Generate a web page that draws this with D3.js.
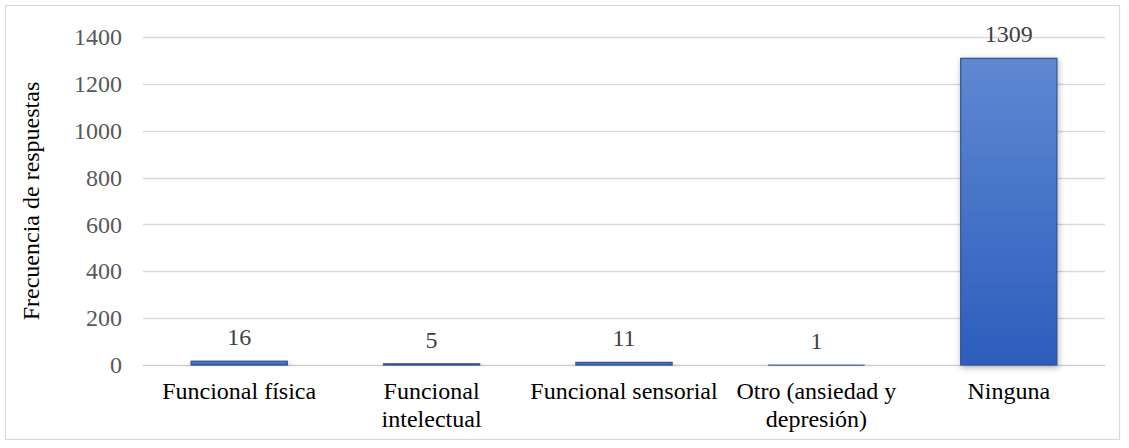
<!DOCTYPE html>
<html><head><meta charset="utf-8">
<script src="https://cdn.jsdelivr.net/npm/d3@7"></script>
<style>body{margin:0;background:#fff}svg{display:block}</style>
</head><body>
<svg id="c" width="1129" height="448"></svg>
<script>
const categories = [["Funcional física"], ["Funcional", "intelectual"], ["Funcional sensorial"], ["Otro (ansiedad y", "depresión)"], ["Ninguna"]];
const values = [16, 5, 11, 1, 1309];
const yTicks = [0, 200, 400, 600, 800, 1000, 1200, 1400];
const yTitle = "Frecuencia de respuestas";

const svg = d3.select("#c");
const W = 1129, H = 448;
const m = {l: 143, r: 24, t: 37, b: 83};
const font = "'Liberation Serif','Times New Roman',serif";
const fs = 24;

svg.append("rect").attr("x", 5.5).attr("y", 5.5).attr("width", 1114).attr("height", 434)
  .attr("fill", "#fff").attr("stroke", "#d9d9d9").attr("stroke-width", 1.2);

const defs = svg.append("defs");
const g1 = defs.append("linearGradient").attr("id", "bg").attr("x1", 0).attr("y1", 0).attr("x2", 0).attr("y2", 1);
g1.append("stop").attr("offset", "0%").attr("stop-color", "#5f88d2");
g1.append("stop").attr("offset", "100%").attr("stop-color", "#2c5dbd");
const f = defs.append("filter").attr("id", "sh").attr("x", "-20%").attr("y", "-20%").attr("width", "140%").attr("height", "140%");
f.append("feDropShadow").attr("dx", 1).attr("dy", 2).attr("stdDeviation", 3).attr("flood-color", "#000").attr("flood-opacity", 0.3);

const x = d3.scaleBand().domain(d3.range(categories.length)).range([m.l, W - m.r]).paddingInner(0.5).paddingOuter(0.25);
const y = d3.scaleLinear().domain([0, 1400]).range([H - m.b, m.t]);

// gridlines
svg.append("g").selectAll("line").data(yTicks).join("line")
  .attr("x1", m.l).attr("x2", W - m.r)
  .attr("y1", d => Math.round(y(d)) + 0.5).attr("y2", d => Math.round(y(d)) + 0.5)
  .attr("stroke", d => d === 0 ? "#cfcfcf" : "#d9d9d9").attr("stroke-width", 1.3);

// y axis labels
const yAxis = d3.axisLeft(y).tickValues(yTicks).tickSize(0).tickPadding(0).tickFormat(d3.format("d"));
const ya = svg.append("g").attr("transform", `translate(${m.l - 21},0)`).call(yAxis)
  .attr("font-family", font).attr("font-size", fs);
ya.select(".domain").remove();
ya.selectAll("text").attr("fill", "#595959");

// bars
svg.append("g").selectAll("rect").data(values).join("rect")
  .attr("x", (d, i) => x(i)).attr("width", x.bandwidth())
  .attr("y", d => y(d)).attr("height", d => Math.max(y(0) - y(d), 0.8))
  .attr("fill", "url(#bg)").attr("stroke", "#2f528f").attr("stroke-width", d => d > 3 ? 1.2 : 0.3)
  .attr("filter", "url(#sh)");

// value labels
svg.append("g").selectAll("text").data(values).join("text")
  .attr("x", (d, i) => x(i) + x.bandwidth() / 2).attr("y", d => y(d) - 16)
  .attr("text-anchor", "middle").attr("font-family", font).attr("font-size", fs).attr("fill", "#404040")
  .text(d => d);

// category labels
const xa = svg.append("g");
categories.forEach((lines, i) => {
  const t = xa.append("text").attr("x", x(i) + x.bandwidth() / 2).attr("y", 399)
    .attr("text-anchor", "middle").attr("font-family", font).attr("font-size", fs).attr("fill", "#000");
  lines.forEach((ln, j) => t.append("tspan").attr("x", x(i) + x.bandwidth() / 2).attr("dy", j === 0 ? 0 : 28).text(ln));
});

// y title
svg.append("text").attr("transform", `translate(39,${(m.t + H - m.b) / 2}) rotate(-90)`)
  .attr("text-anchor", "middle").attr("font-family", font).attr("font-size", fs).attr("fill", "#000")
  .text(yTitle);
</script>
</body></html>
